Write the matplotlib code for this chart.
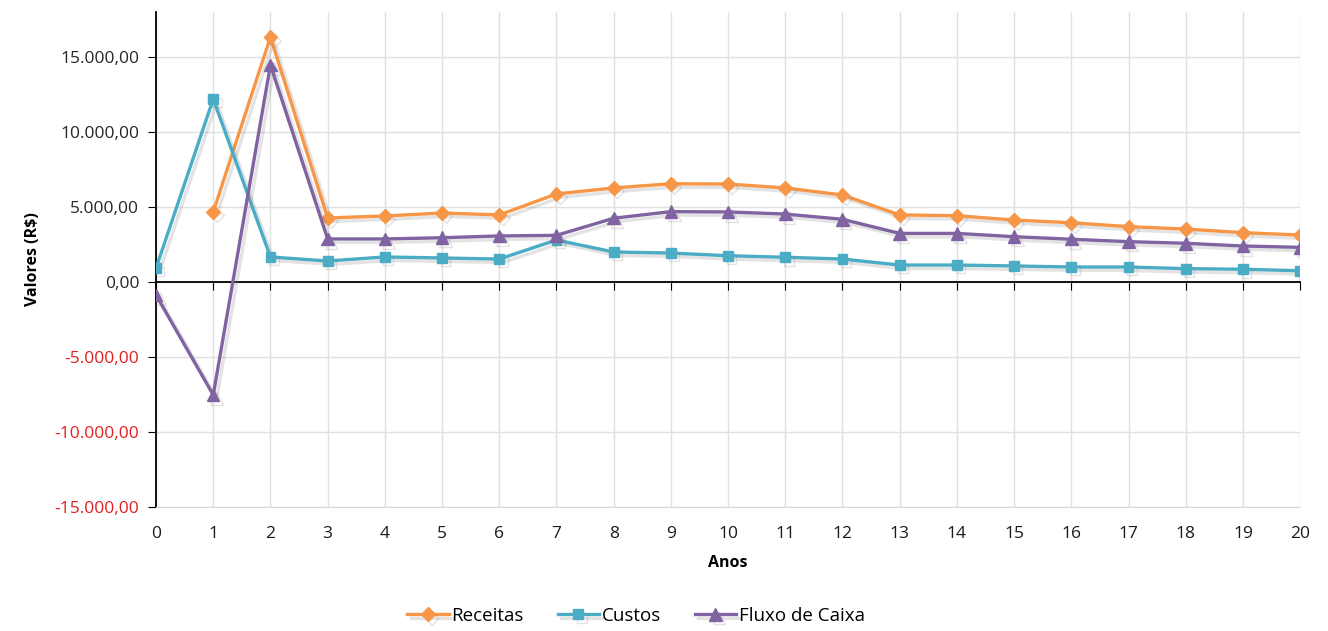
import numpy as np
from matplotlib import pyplot as plt
from matplotlib import patheffects as pe
from matplotlib.ticker import FuncFormatter

plt.rcParams['font.family'] = ['Open Sans', 'DejaVu Sans']

anos = np.arange(0, 21)
receitas = [np.nan, 4670, 16330, 4270, 4400, 4600, 4470, 5870, 6270, 6550,
            6530, 6270, 5800, 4470, 4420, 4130, 3950, 3690, 3530, 3290, 3130]
custos = [930, 12200, 1670, 1400, 1670, 1600, 1530, 2800, 2000, 1930,
          1750, 1650, 1530, 1130, 1130, 1070, 1000, 1000, 890, 850, 750]
fluxo = [-870, -7530, 14470, 2870, 2870, 2950, 3070, 3110, 4250, 4690,
         4670, 4530, 4180, 3240, 3240, 3020, 2850, 2690, 2580, 2400, 2310]

def br_fmt(v, pos):
    s = f"{abs(v):,.2f}".replace(",", "X").replace(".", ",").replace("X", ".")
    return ("-" if v < 0 else "") + s

fig = plt.figure(figsize=(13.28, 6.31), dpi=100)
ax = fig.add_axes([0.1175, 0.1965, 0.8615, 0.7845])

sombra = [pe.SimpleLineShadow(offset=(2.5, -2.5), shadow_color='gray', alpha=0.22), pe.Normal()]
ax.plot(anos, receitas, color='#F79646', lw=2.4, marker='D', ms=7,
        label='Receitas', path_effects=sombra, zorder=3)
ax.plot(anos, custos, color='#4BACC6', lw=2.4, marker='s', ms=7,
        label='Custos', path_effects=sombra, zorder=3)
ax.plot(anos, fluxo, color='#8064A2', lw=2.4, marker='^', ms=9,
        label='Fluxo de Caixa', path_effects=sombra, zorder=4)

ax.set_xlim(0, 20)
ax.set_ylim(-15000, 18000)
ax.set_xticks(anos)
ax.set_yticks(np.arange(-15000, 15001, 5000))
ax.yaxis.set_major_formatter(FuncFormatter(br_fmt))
ax.grid(True, color='#e0e0e0', lw=1)
ax.set_axisbelow(True)

# horizontal axis crosses at zero, labels stay at the bottom
ax.spines['right'].set_visible(False)
ax.spines['bottom'].set_color('#d9d9d9')
ax.spines['top'].set_position(('data', 0))
ax.spines['top'].set_color('black')
ax.spines['top'].set_linewidth(1.3)
ax.spines['left'].set_linewidth(1.3)
ax.tick_params(axis='x', top=True, bottom=False, direction='in', length=6,
               labeltop=False, labelbottom=True, labelsize=12.5, pad=14,
               labelcolor='#1a1a1a')
ax.tick_params(axis='y', direction='out', length=6, labelsize=12.5, pad=6,
               labelcolor='#262626')
fig.canvas.draw()
for lbl, v in zip(ax.get_yticklabels(), ax.get_yticks()):
    if v < 0:
        lbl.set_color('#e02020')

ax.set_xlabel('Anos', fontsize=11.5, fontweight='bold', labelpad=9)
ax.set_ylabel('Valores (R$)', fontsize=11.5, fontweight='bold', labelpad=10)

fig.legend(loc='center', bbox_to_anchor=(0.479, 0.024), ncol=3, frameon=False,
           fontsize=13.5, handlelength=2.2, columnspacing=1.8, handletextpad=0.15)

fig.savefig('out.png', dpi=100)
